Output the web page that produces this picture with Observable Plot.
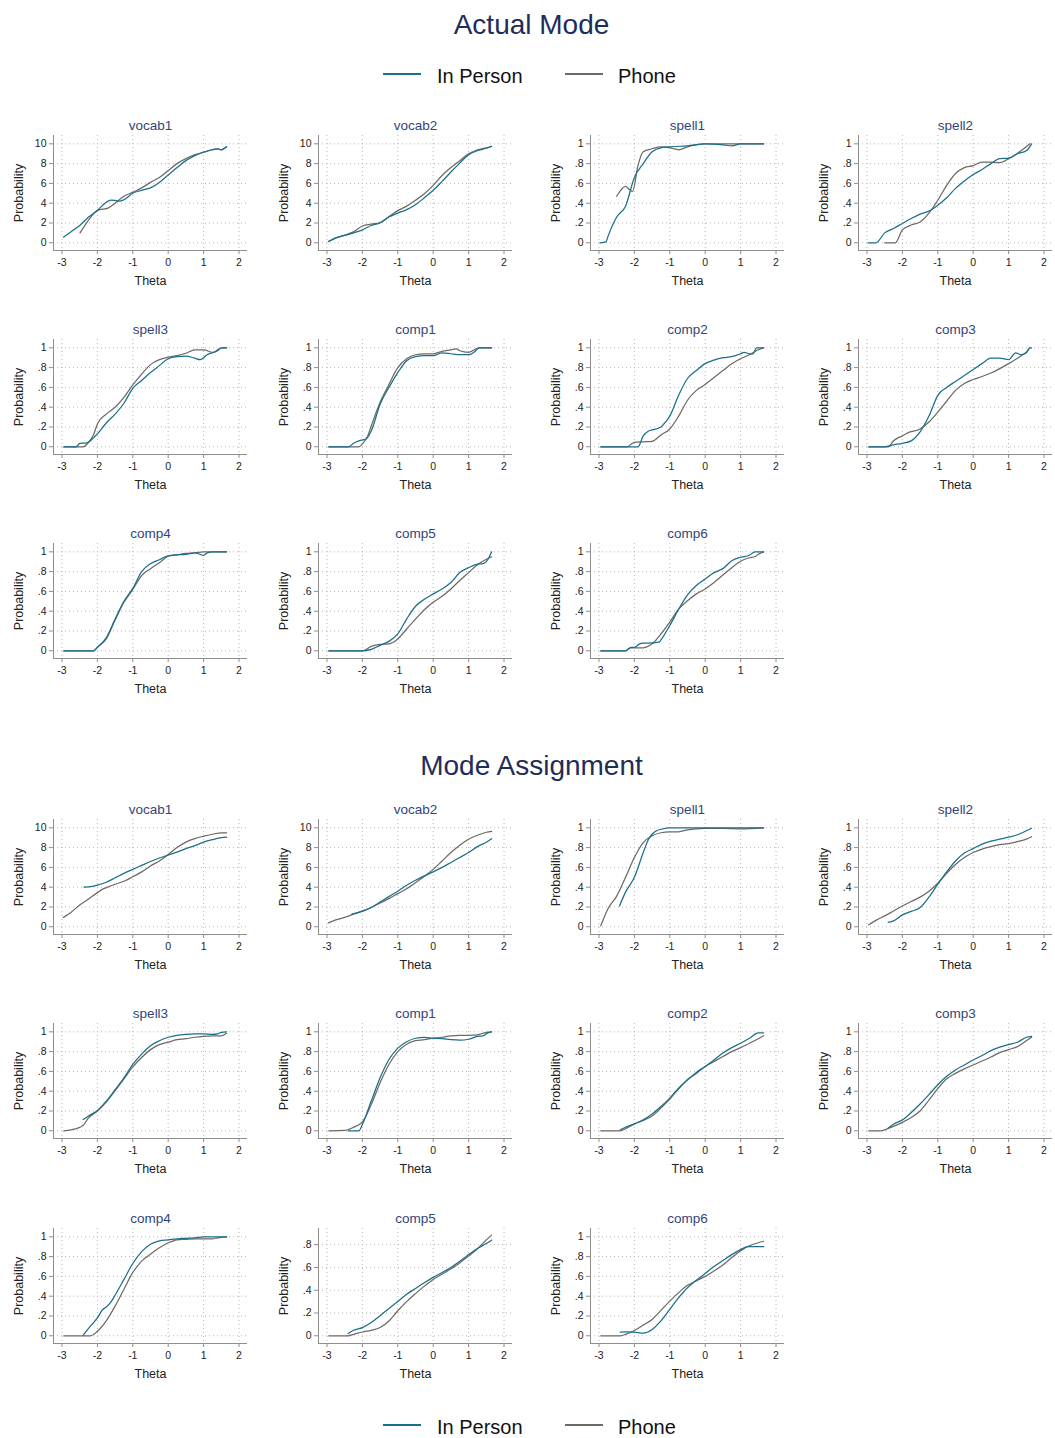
<!DOCTYPE html>
<html><head><meta charset="utf-8">
<script src="https://cdn.jsdelivr.net/npm/d3@7"></script>
<script src="https://cdn.jsdelivr.net/npm/@observablehq/plot@0.6"></script>
<style>
html,body{margin:0;padding:0;background:#fff;overflow:hidden;}
#root{position:relative;width:1055px;height:1438px;overflow:hidden;font-family:"Liberation Sans",Arial,Helvetica,sans-serif;}
.title{position:absolute;left:0;width:1063px;text-align:center;font-size:28px;line-height:28px;color:#1f2d59;}
.legtext{position:absolute;font-size:20px;line-height:20px;color:#111;white-space:nowrap;}
.legline{position:absolute;height:2px;width:38px;}
.panel{position:absolute;}
.panel svg{max-width:none !important;}
</style></head><body><div id="root"></div><script>
// ---------- labels ----------
const sectionTitles = ["Actual Mode", "Mode Assignment"];
const seriesNames = ["In Person", "Phone"];
const panelNames = ["vocab1","vocab2","spell1","spell2","spell3","comp1","comp2","comp3","comp4","comp5","comp6"];
const xTicks = [-3,-2,-1,0,1,2];
const vocabTicks = [0,2,4,6,8,10];
const probTicks = [0,0.2,0.4,0.6,0.8,1];
const shortProbTicks = [0,0.2,0.4,0.6,0.8];

// ---------- Actual Mode: [theta, probability] ----------
const actualVocab1InPerson = [[-2.96,0.57],[-2.75,1.1],[-2.5,1.75],[-2.25,2.6],[-2,3.27],[-1.75,4.1],[-1.62,4.3],[-1.5,4.28],[-1.38,4.2],[-1.25,4.35],[-1,5.0],[-0.75,5.3],[-0.5,5.55],[-0.25,6.1],[0,6.85],[0.25,7.6],[0.5,8.3],[0.75,8.8],[1,9.15],[1.25,9.4],[1.4,9.5],[1.5,9.4],[1.65,9.7]];
const actualVocab1Phone = [[-2.49,1.0],[-2.25,2.3],[-2,3.27],[-1.85,3.4],[-1.7,3.5],[-1.5,4.0],[-1.25,4.7],[-1,5.1],[-0.75,5.55],[-0.5,6.1],[-0.25,6.6],[0,7.3],[0.25,8.0],[0.5,8.5],[0.75,8.9],[1,9.15],[1.25,9.4],[1.4,9.5],[1.5,9.4],[1.65,9.7]];
const actualVocab2InPerson = [[-2.96,0.13],[-2.75,0.5],[-2.5,0.75],[-2.25,1.0],[-2,1.3],[-1.75,1.75],[-1.5,2.0],[-1.25,2.6],[-1,3.0],[-0.75,3.35],[-0.5,3.85],[-0.25,4.55],[0,5.3],[0.25,6.2],[0.5,7.15],[0.75,8.05],[1,8.9],[1.25,9.3],[1.5,9.55],[1.65,9.75]];
const actualVocab2Phone = [[-2.96,0.13],[-2.75,0.5],[-2.5,0.78],[-2.25,1.1],[-2,1.7],[-1.75,1.88],[-1.5,2.05],[-1.25,2.65],[-1,3.25],[-0.75,3.7],[-0.5,4.3],[-0.25,4.95],[0,5.8],[0.25,6.8],[0.5,7.6],[0.75,8.3],[1,9.0],[1.25,9.4],[1.5,9.6],[1.65,9.75]];
const actualSpell1InPerson = [[-2.97,0],[-2.8,0.01],[-2.75,0.06],[-2.5,0.26],[-2.25,0.37],[-2,0.66],[-1.75,0.8],[-1.5,0.92],[-1.25,0.96],[-1,0.97],[-0.5,0.98],[0,1.0],[0.5,0.99],[0.75,0.98],[1,1.0],[1.65,1.0]];
const actualSpell1Phone = [[-2.5,0.47],[-2.25,0.57],[-2.15,0.54],[-2.05,0.52],[-1.9,0.78],[-1.75,0.92],[-1.5,0.95],[-1.25,0.97],[-1,0.96],[-0.75,0.94],[-0.5,0.97],[-0.25,0.99],[0,1.0],[1,1.0],[1.65,1.0]];
const actualSpell2InPerson = [[-2.97,0],[-2.75,0],[-2.5,0.1],[-2.25,0.145],[-2,0.195],[-1.75,0.245],[-1.5,0.29],[-1.25,0.32],[-1,0.38],[-0.75,0.455],[-0.5,0.55],[-0.25,0.625],[0,0.69],[0.25,0.74],[0.5,0.8],[0.75,0.85],[1,0.855],[1.25,0.9],[1.5,0.93],[1.65,1.0]];
const actualSpell2Phone = [[-2.5,0],[-2.2,0],[-2,0.13],[-1.75,0.18],[-1.5,0.21],[-1.25,0.3],[-1,0.43],[-0.75,0.58],[-0.5,0.7],[-0.25,0.76],[0,0.78],[0.25,0.815],[0.5,0.815],[0.75,0.81],[1,0.85],[1.25,0.905],[1.5,0.97],[1.6,1.0]];
const actualSpell3InPerson = [[-2.95,0],[-2.6,0],[-2.5,0.035],[-2.3,0.04],[-2.2,0.06],[-2.1,0.095],[-2,0.13],[-1.75,0.24],[-1.5,0.33],[-1.25,0.44],[-1,0.59],[-0.75,0.67],[-0.5,0.75],[-0.25,0.82],[0,0.89],[0.25,0.91],[0.5,0.915],[0.75,0.895],[0.9,0.88],[1,0.9],[1.1,0.93],[1.3,0.955],[1.5,1.0],[1.65,1.0]];
const actualSpell3Phone = [[-2.95,0],[-2.4,0],[-2.25,0.045],[-2.1,0.13],[-2,0.23],[-1.75,0.33],[-1.5,0.4],[-1.25,0.5],[-1,0.625],[-0.75,0.735],[-0.5,0.83],[-0.25,0.88],[0,0.905],[0.25,0.92],[0.5,0.945],[0.75,0.98],[1,0.98],[1.25,0.955],[1.4,0.97],[1.5,1.0],[1.65,1.0]];
const actualComp1InPerson = [[-2.95,0],[-2.4,0],[-2.25,0.035],[-2.1,0.06],[-1.9,0.078],[-1.75,0.16],[-1.5,0.43],[-1.25,0.6],[-1,0.75],[-0.75,0.87],[-0.5,0.91],[-0.25,0.92],[0,0.92],[0.25,0.95],[0.5,0.94],[0.75,0.93],[1,0.93],[1.15,0.955],[1.3,1.0],[1.65,1.0]];
const actualComp1Phone = [[-2.95,0],[-2.1,0],[-2,0.03],[-1.85,0.11],[-1.75,0.21],[-1.5,0.45],[-1.25,0.63],[-1,0.8],[-0.75,0.89],[-0.5,0.93],[-0.25,0.94],[0,0.94],[0.25,0.965],[0.5,0.98],[0.65,0.99],[0.75,0.97],[1,0.955],[1.3,1.0],[1.65,1.0]];
const actualComp2InPerson = [[-2.95,0],[-1.9,0],[-1.75,0.11],[-1.6,0.16],[-1.5,0.17],[-1.25,0.2],[-1.1,0.26],[-1,0.31],[-0.75,0.52],[-0.5,0.69],[-0.25,0.77],[0,0.84],[0.2,0.87],[0.5,0.9],[0.75,0.91],[1,0.94],[1.1,0.955],[1.25,0.94],[1.35,0.94],[1.45,1.0],[1.65,1.0]];
const actualComp2Phone = [[-2.95,0],[-2.2,0],[-2.1,0.025],[-2,0.045],[-1.75,0.05],[-1.5,0.055],[-1.25,0.12],[-1,0.18],[-0.75,0.31],[-0.5,0.47],[-0.25,0.57],[0,0.63],[0.25,0.7],[0.5,0.77],[0.75,0.84],[1,0.89],[1.25,0.93],[1.5,0.98],[1.65,1.0]];
const actualComp3InPerson = [[-2.95,0],[-2.5,0],[-2.25,0.02],[-2,0.035],[-1.75,0.06],[-1.5,0.15],[-1.25,0.31],[-1,0.52],[-0.75,0.6],[-0.5,0.66],[-0.25,0.72],[0,0.78],[0.25,0.84],[0.5,0.895],[0.75,0.895],[1,0.88],[1.2,0.95],[1.35,0.93],[1.5,0.95],[1.6,1.0],[1.65,1.0]];
const actualComp3Phone = [[-2.95,0],[-2.4,0],[-2.25,0.06],[-2.15,0.085],[-2,0.11],[-1.85,0.14],[-1.5,0.18],[-1.25,0.25],[-1,0.35],[-0.75,0.46],[-0.5,0.57],[-0.25,0.64],[0,0.68],[0.25,0.71],[0.5,0.745],[0.75,0.79],[1,0.84],[1.25,0.895],[1.4,0.93],[1.5,0.955],[1.6,1.0]];
const actualComp4InPerson = [[-2.95,0],[-2.1,0],[-2,0.035],[-1.75,0.13],[-1.5,0.32],[-1.25,0.5],[-1,0.63],[-0.75,0.8],[-0.5,0.88],[-0.25,0.92],[0,0.96],[0.25,0.97],[0.5,0.975],[0.75,0.99],[1,0.965],[1.1,0.99],[1.25,1.0],[1.65,1.0]];
const actualComp4Phone = [[-2.95,0],[-2.1,0],[-2,0.035],[-1.75,0.12],[-1.5,0.31],[-1.25,0.49],[-1,0.62],[-0.75,0.76],[-0.5,0.83],[-0.25,0.89],[0,0.955],[0.25,0.97],[0.5,0.985],[0.75,0.99],[1,1.0],[1.65,1.0]];
const actualComp5InPerson = [[-2.95,0],[-2,0],[-1.75,0.015],[-1.5,0.055],[-1.25,0.095],[-1,0.17],[-0.75,0.32],[-0.5,0.45],[-0.25,0.52],[0,0.575],[0.25,0.625],[0.5,0.69],[0.75,0.79],[1,0.84],[1.25,0.875],[1.4,0.88],[1.55,0.925],[1.65,1.0]];
const actualComp5Phone = [[-2.95,0],[-2,0],[-1.75,0.045],[-1.5,0.065],[-1.25,0.07],[-1,0.12],[-0.75,0.22],[-0.5,0.32],[-0.25,0.415],[0,0.49],[0.25,0.55],[0.5,0.625],[0.75,0.71],[1,0.79],[1.25,0.87],[1.5,0.925],[1.65,0.95]];
const actualComp6InPerson = [[-2.95,0],[-2.25,0],[-2.1,0.035],[-2,0.035],[-1.85,0.07],[-1.75,0.077],[-1.5,0.08],[-1.3,0.087],[-1.25,0.11],[-1,0.255],[-0.75,0.42],[-0.5,0.565],[-0.25,0.66],[0,0.725],[0.25,0.79],[0.5,0.83],[0.75,0.91],[1,0.945],[1.25,0.965],[1.4,1.0],[1.65,1.0]];
const actualComp6Phone = [[-2.95,0],[-2.25,0],[-2.1,0.03],[-1.75,0.03],[-1.5,0.07],[-1.25,0.17],[-1,0.29],[-0.75,0.42],[-0.5,0.505],[-0.25,0.575],[0,0.625],[0.25,0.69],[0.5,0.765],[0.75,0.84],[1,0.905],[1.25,0.94],[1.4,0.95],[1.5,0.975],[1.65,1.0]];

// ---------- Mode Assignment: [theta, probability] ----------
const assignVocab1InPerson = [[-2.38,4.0],[-2.25,4.02],[-2,4.2],[-1.75,4.5],[-1.5,4.95],[-1.25,5.4],[-1,5.8],[-0.75,6.2],[-0.5,6.6],[-0.25,6.95],[0,7.25],[0.25,7.55],[0.5,7.9],[0.75,8.2],[1,8.55],[1.25,8.8],[1.5,9.0],[1.65,9.05]];
const assignVocab1Phone = [[-2.96,0.95],[-2.75,1.45],[-2.5,2.2],[-2.25,2.8],[-2,3.45],[-1.85,3.8],[-1.75,3.95],[-1.5,4.3],[-1.25,4.6],[-1,5.05],[-0.75,5.55],[-0.5,6.15],[-0.25,6.65],[0,7.3],[0.25,8.0],[0.5,8.55],[0.75,8.9],[1,9.15],[1.25,9.35],[1.5,9.5],[1.65,9.5]];
const assignVocab2InPerson = [[-2.3,1.28],[-2,1.55],[-1.75,1.95],[-1.5,2.5],[-1.25,3.05],[-1,3.6],[-0.75,4.2],[-0.5,4.7],[-0.25,5.15],[0,5.55],[0.25,6.0],[0.5,6.5],[0.75,7.0],[1,7.5],[1.25,8.1],[1.5,8.55],[1.65,8.9]];
const assignVocab2Phone = [[-2.96,0.4],[-2.75,0.7],[-2.5,0.95],[-2.25,1.28],[-2,1.6],[-1.75,1.95],[-1.5,2.4],[-1.25,2.85],[-1,3.35],[-0.75,3.85],[-0.5,4.45],[-0.25,5.1],[0,5.8],[0.25,6.65],[0.5,7.5],[0.75,8.25],[1,8.85],[1.25,9.25],[1.5,9.55],[1.65,9.65]];
const assignSpell1InPerson = [[-2.42,0.21],[-2.25,0.35],[-2,0.5],[-1.75,0.75],[-1.6,0.885],[-1.5,0.935],[-1.35,0.975],[-1.25,0.985],[-1,1.0],[0,1.0],[1.65,1.0]];
const assignSpell1Phone = [[-2.95,0.01],[-2.75,0.18],[-2.5,0.31],[-2.25,0.5],[-2,0.7],[-1.75,0.85],[-1.5,0.92],[-1.25,0.95],[-1,0.96],[-0.75,0.96],[-0.5,0.98],[-0.25,0.99],[0,0.995],[0.5,0.995],[1,0.99],[1.65,1.0]];
const assignSpell2InPerson = [[-2.4,0.045],[-2.25,0.06],[-2,0.12],[-1.75,0.155],[-1.5,0.195],[-1.25,0.3],[-1,0.43],[-0.75,0.555],[-0.5,0.665],[-0.25,0.745],[0,0.79],[0.25,0.835],[0.5,0.865],[0.75,0.885],[1,0.905],[1.25,0.93],[1.5,0.97],[1.65,0.995]];
const assignSpell2Phone = [[-2.95,0.02],[-2.75,0.065],[-2.5,0.11],[-2.25,0.16],[-2,0.21],[-1.75,0.255],[-1.5,0.3],[-1.25,0.36],[-1,0.44],[-0.75,0.54],[-0.5,0.63],[-0.25,0.7],[0,0.75],[0.25,0.785],[0.5,0.81],[0.75,0.83],[1,0.84],[1.25,0.86],[1.5,0.885],[1.65,0.91]];
const assignSpell3InPerson = [[-2.4,0.115],[-2.25,0.15],[-2,0.205],[-1.75,0.3],[-1.5,0.415],[-1.25,0.535],[-1,0.67],[-0.75,0.775],[-0.5,0.86],[-0.25,0.91],[0,0.945],[0.25,0.965],[0.5,0.975],[0.75,0.98],[1,0.98],[1.25,0.975],[1.4,0.98],[1.5,0.995],[1.65,1.0]];
const assignSpell3Phone = [[-2.95,0],[-2.75,0.01],[-2.5,0.035],[-2.4,0.055],[-2.25,0.13],[-2,0.2],[-1.75,0.29],[-1.5,0.405],[-1.25,0.525],[-1,0.645],[-0.75,0.74],[-0.5,0.82],[-0.25,0.87],[0,0.895],[0.25,0.92],[0.5,0.93],[0.75,0.945],[1,0.955],[1.25,0.96],[1.5,0.96],[1.65,0.985]];
const assignComp1InPerson = [[-2.4,0],[-2.1,0],[-2,0.065],[-1.75,0.3],[-1.5,0.535],[-1.25,0.72],[-1,0.835],[-0.75,0.9],[-0.5,0.935],[-0.25,0.945],[0,0.935],[0.25,0.93],[0.5,0.92],[0.75,0.915],[1,0.925],[1.25,0.955],[1.4,0.96],[1.55,0.99],[1.65,1.0]];
const assignComp1Phone = [[-2.95,0],[-2.5,0.003],[-2.25,0.035],[-2,0.09],[-1.75,0.265],[-1.5,0.485],[-1.25,0.67],[-1,0.8],[-0.75,0.875],[-0.5,0.91],[-0.25,0.92],[0,0.935],[0.25,0.945],[0.5,0.96],[0.75,0.965],[1,0.965],[1.25,0.97],[1.5,0.995],[1.65,1.0]];
const assignComp2InPerson = [[-2.4,0.01],[-2.25,0.035],[-2,0.07],[-1.75,0.11],[-1.5,0.17],[-1.25,0.245],[-1,0.33],[-0.75,0.43],[-0.5,0.515],[-0.25,0.59],[0,0.65],[0.25,0.715],[0.5,0.785],[0.75,0.84],[1,0.885],[1.25,0.935],[1.5,0.99],[1.65,0.99]];
const assignComp2Phone = [[-2.95,0],[-2.4,0],[-2.25,0.02],[-2,0.07],[-1.75,0.105],[-1.5,0.15],[-1.25,0.23],[-1,0.32],[-0.75,0.425],[-0.5,0.515],[-0.25,0.58],[0,0.65],[0.25,0.7],[0.5,0.75],[0.75,0.8],[1,0.84],[1.25,0.885],[1.5,0.93],[1.65,0.96]];
const assignComp3InPerson = [[-2.4,0.027],[-2.25,0.067],[-2,0.11],[-1.75,0.185],[-1.5,0.27],[-1.25,0.365],[-1,0.465],[-0.75,0.55],[-0.5,0.615],[-0.25,0.665],[0,0.715],[0.25,0.76],[0.5,0.81],[0.75,0.845],[1,0.87],[1.25,0.895],[1.5,0.945],[1.65,0.955]];
const assignComp3Phone = [[-2.95,0],[-2.6,0],[-2.5,0.01],[-2.25,0.045],[-2,0.085],[-1.75,0.135],[-1.5,0.2],[-1.25,0.31],[-1,0.425],[-0.75,0.525],[-0.5,0.58],[-0.25,0.625],[0,0.665],[0.25,0.705],[0.5,0.745],[0.75,0.79],[1,0.82],[1.25,0.85],[1.5,0.91],[1.65,0.945]];
const assignComp4InPerson = [[-2.4,0.007],[-2.25,0.075],[-2,0.18],[-1.85,0.265],[-1.75,0.29],[-1.6,0.35],[-1.5,0.41],[-1.25,0.57],[-1,0.73],[-0.75,0.85],[-0.5,0.925],[-0.25,0.96],[0,0.97],[0.25,0.98],[0.5,0.985],[0.75,0.99],[1,1.0],[1.65,1.0]];
const assignComp4Phone = [[-2.95,0],[-2.2,0],[-2,0.045],[-1.75,0.15],[-1.5,0.3],[-1.25,0.47],[-1,0.64],[-0.75,0.755],[-0.5,0.825],[-0.25,0.89],[0,0.94],[0.25,0.97],[0.5,0.975],[0.75,0.98],[1,0.98],[1.25,0.98],[1.4,0.99],[1.65,1.0]];
const assignComp5InPerson = [[-2.4,0.02],[-2.25,0.048],[-2,0.072],[-1.75,0.116],[-1.5,0.176],[-1.25,0.24],[-1,0.3],[-0.75,0.364],[-0.5,0.415],[-0.25,0.466],[0,0.513],[0.25,0.555],[0.5,0.6],[0.75,0.654],[1,0.713],[1.25,0.767],[1.5,0.81],[1.65,0.84]];
const assignComp5Phone = [[-2.95,0],[-2.4,0],[-2.25,0.012],[-2,0.033],[-1.75,0.048],[-1.5,0.072],[-1.25,0.13],[-1,0.22],[-0.75,0.3],[-0.5,0.37],[-0.25,0.436],[0,0.495],[0.25,0.54],[0.5,0.588],[0.75,0.64],[1,0.7],[1.25,0.764],[1.5,0.842],[1.65,0.884]];
const assignComp6InPerson = [[-2.4,0.037],[-2.25,0.04],[-2,0.037],[-1.75,0.027],[-1.5,0.064],[-1.25,0.15],[-1,0.267],[-0.75,0.385],[-0.5,0.486],[-0.25,0.56],[0,0.63],[0.25,0.7],[0.5,0.76],[0.75,0.82],[1,0.87],[1.2,0.9],[1.4,0.9],[1.65,0.9]];
const assignComp6Phone = [[-2.95,0],[-2.4,0],[-2.25,0.014],[-2,0.054],[-1.75,0.108],[-1.5,0.165],[-1.25,0.257],[-1,0.35],[-0.75,0.436],[-0.5,0.51],[-0.25,0.555],[0,0.6],[0.25,0.655],[0.5,0.715],[0.75,0.79],[1,0.86],[1.25,0.91],[1.5,0.94],[1.65,0.955]];

// ---------- tables built from the arrays ----------
const sections = [
  [[actualVocab1InPerson,actualVocab1Phone],[actualVocab2InPerson,actualVocab2Phone],[actualSpell1InPerson,actualSpell1Phone],[actualSpell2InPerson,actualSpell2Phone],[actualSpell3InPerson,actualSpell3Phone],[actualComp1InPerson,actualComp1Phone],[actualComp2InPerson,actualComp2Phone],[actualComp3InPerson,actualComp3Phone],[actualComp4InPerson,actualComp4Phone],[actualComp5InPerson,actualComp5Phone],[actualComp6InPerson,actualComp6Phone]],
  [[assignVocab1InPerson,assignVocab1Phone],[assignVocab2InPerson,assignVocab2Phone],[assignSpell1InPerson,assignSpell1Phone],[assignSpell2InPerson,assignSpell2Phone],[assignSpell3InPerson,assignSpell3Phone],[assignComp1InPerson,assignComp1Phone],[assignComp2InPerson,assignComp2Phone],[assignComp3InPerson,assignComp3Phone],[assignComp4InPerson,assignComp4Phone],[assignComp5InPerson,assignComp5Phone],[assignComp6InPerson,assignComp6Phone]]
];

// ---------- styling / layout ----------
const colors = ["#1a6f8b", "#6f6964"];
const FONT = "'Liberation Sans', Arial, Helvetica, sans-serif";
const axisGray = "#8e8e8e";
const colAxisX = [53, 318, 590, 858];
const rowTops = [[135, 339, 543], [819, 1023, 1228]];
const titleTops = [11, 752];
const legendTops = [66, 1417];
const plotW = 194, plotH = 115, mL = 53, mR = 8, mT = 25, mB = 45;
const xDomain = [-3.24, 2.24];

const root = document.getElementById("root");

function probFormat(d) {
  if (d === 0) return "0";
  if (d === 1) return "1";
  return d.toFixed(1).replace(/^0/, "");
}

function makePanel(name, series, yTicks, yDomain, fmt) {
  return Plot.plot({
    width: mL + plotW + mR, height: mT + plotH + mB,
    marginLeft: mL, marginRight: mR, marginTop: mT, marginBottom: mB,
    style: {fontFamily: FONT, background: "transparent", overflow: "visible", maxWidth: "none"},
    x: {domain: xDomain},
    y: {domain: yDomain},
    marks: [
      Plot.gridX({ticks: xTicks, stroke: "#b8b8b8", strokeOpacity: 1, strokeDasharray: "1,3"}),
      Plot.gridY({ticks: yTicks, stroke: "#b8b8b8", strokeOpacity: 1, strokeDasharray: "1,3"}),
      Plot.ruleX([xDomain[0]], {stroke: axisGray}),
      Plot.ruleY([yDomain[0]], {stroke: axisGray}),
      Plot.axisX({ticks: xTicks, tickSize: 4, tickPadding: 4, tickFormat: d => String(d), fontSize: 10.5, stroke: axisGray, fill: "#222", label: null}),
      Plot.axisY({ticks: yTicks, tickSize: 4, tickPadding: 3, tickFormat: fmt, fontSize: 10.5, stroke: axisGray, fill: "#222", label: null}),
      Plot.line(series[1], {x: d => d[0], y: d => d[1], stroke: colors[1], strokeWidth: 1.25, curve: "monotone-x"}),
      Plot.line(series[0], {x: d => d[0], y: d => d[1], stroke: colors[0], strokeWidth: 1.25, curve: "monotone-x"}),
      Plot.text([name], {text: d => d, frameAnchor: "top", lineAnchor: "middle", dy: -10, fontSize: 13.5, fill: "#34447a"}),
      Plot.text(["Theta"], {text: d => d, frameAnchor: "bottom", lineAnchor: "middle", dy: 30, fontSize: 12.5, fill: "#222"}),
      Plot.text(["Probability"], {text: d => d, frameAnchor: "left", textAnchor: "middle", lineAnchor: "middle", dx: -35, rotate: -90, fontSize: 12.5, fill: "#222"})
    ]
  });
}

function addLegend(top) {
  const items = [[383, 437], [565, 618]];
  seriesNames.forEach((s, i) => {
    const ln = document.createElement("div");
    ln.className = "legline";
    ln.style.left = items[i][0] + "px";
    ln.style.top = (top + 6.5) + "px";
    ln.style.background = colors[i];
    root.appendChild(ln);
    const tx = document.createElement("div");
    tx.className = "legtext";
    tx.style.left = items[i][1] + "px";
    tx.style.top = top + "px";
    tx.textContent = s;
    root.appendChild(tx);
  });
}

sectionTitles.forEach((t, s) => {
  const el = document.createElement("div");
  el.className = "title";
  el.style.top = titleTops[s] + "px";
  el.textContent = t;
  root.appendChild(el);
  panelNames.forEach((name, i) => {
    const row = Math.floor(i / 4), col = i % 4;
    let yTicks = probTicks, yDomain = [-0.078, 1.084], fmt = probFormat;
    if (name.startsWith("vocab")) { yTicks = vocabTicks; yDomain = [-0.78, 10.84]; fmt = d => String(d); }
    if (s === 1 && name === "comp5") { yTicks = shortProbTicks; yDomain = [-0.068, 0.942]; }
    const svg = makePanel(name, sections[s][i], yTicks, yDomain, fmt);
    const div = document.createElement("div");
    div.className = "panel";
    div.style.left = (colAxisX[col] - mL) + "px";
    div.style.top = (rowTops[s][row] - mT) + "px";
    div.style.width = (mL + plotW + mR) + "px";
    div.appendChild(svg);
    root.appendChild(div);
  });
});
addLegend(legendTops[0]);
addLegend(legendTops[1]);
</script></body></html>
